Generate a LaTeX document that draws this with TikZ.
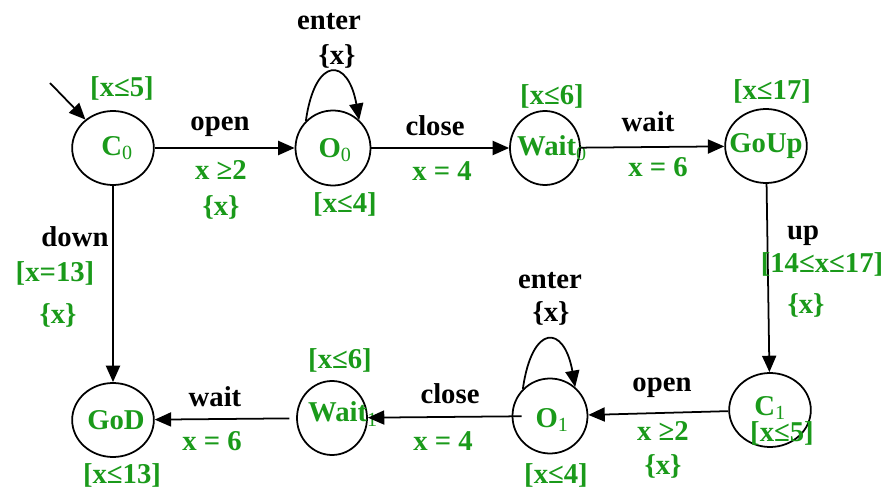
\documentclass[tikz,border=0pt]{standalone}
\usepackage{fontspec}
\setmainfont{Liberation Serif}
\usetikzlibrary{arrows.meta, shapes.geometric}

\definecolor{guardGreen}{HTML}{1A9A1A}

\newcommand{\locsub}[1]{\textsubscript{\mdseries #1}}

\tikzset{
  state/.style={draw, ellipse, line width=1.5pt, inner sep=0pt},
  widestate/.style={state, minimum width=2.45cm, minimum height=2.22cm},
  roundstate/.style={state, minimum width=2.25cm, minimum height=2.25cm},
  narrowstate/.style={state, minimum width=2.1cm, minimum height=2.22cm},
  sname/.style={text=guardGreen, inner sep=0pt},
  act/.style={text=black, inner sep=0pt},
  grd/.style={text=guardGreen, inner sep=0pt},
  trans/.style={line width=1.5pt, -{Triangle[length=14pt, width=12pt]}},
}

\begin{document}
\begin{tikzpicture}[x=0.3cm, y=0.3cm, every node/.append style={font=\fontsize{24.5}{29}\selectfont\bfseries}]
    \useasboundingbox (0,0) rectangle (88.8,49.2);

    % Locations, top row
    \node[widestate, label={[sname, xshift=0.12cm]center:C\locsub{0}}] (C0) at (11.3,34.4) {};
    \node[roundstate, label={[sname, xshift=0.06cm, yshift=-0.06cm]center:O\locsub{0}}] (O0) at (33.3,34.4) {};
    \node[narrowstate, label={[sname, xshift=0.21cm]center:Wait\locsub{0}}] (Wait0) at (54.5,34.4) {};
    \node[widestate, label={[sname]center:GoUp}] (GoUp) at (76.6,34.6) {};

    % Locations, bottom row
    \node[widestate, label={[sname, yshift=0.06cm]center:C\locsub{1}}] (C1) at (77.0,8.2) {};
    \node[roundstate, label={[sname, xshift=0.06cm, yshift=-0.12cm]center:O\locsub{1}}] (O1) at (55.0,7.6) {};
    \node[narrowstate, label={[sname, xshift=0.33cm, yshift=0.12cm]center:Wait\locsub{1}}] (Wait1) at (33.2,7.4) {};
    \node[widestate, label={[sname, xshift=0.09cm]center:GoD}] (GoD) at (11.3,7.2) {};

    % Initial location
    \coordinate (init) at (5.0,40.9);
    \draw[trans] (init) -- (C0);

    % Transitions
    \draw[trans] (C0) -- (O0);
    \draw[trans] (O0) -- (Wait0);
    \draw[trans] (Wait0) -- (GoUp);
    \draw[trans] (GoUp) -- (C1);
    \draw[trans] (C1) -- (O1);
    \draw[trans, shorten <=-0.3cm] (O1) -- (Wait1);
    \draw[trans, shorten <=0.2cm] (Wait1) -- (GoD);
    \draw[trans] (C0) -- (GoD);
    \draw[trans] (O0.135) .. controls +(82:6.6) and +(100:6.4) .. (O0.47);
    \draw[trans] (O1.135) .. controls +(82:6.6) and +(100:6.4) .. (O1.49);

    % Invariants
    \node[grd] (invC0) at (12.2,40.4) {[x≤5]};
    \node[grd] (invO0) at (34.5,28.8) {[x≤4]};
    \node[grd] (invWait0) at (55.2,39.6) {[x≤6]};
    \node[grd] (invGoUp) at (77.2,40.1) {[x≤17]};
    \node[grd] (invC1) at (78.2,5.9) {[x≤5]};
    \node[grd] (invO1) at (55.6,1.7) {[x≤4]};
    \node[grd] (invWait1) at (34.0,13.2) {[x≤6]};
    \node[grd] (invGoD) at (12.2,1.7) {[x≤13]};

    % Labels, top row
    \node[act] (lblEnter0) at (32.9,47.0) {enter};
    \node[act] (rstEnter0) at (33.7,43.6) {\{x\}};
    \node[act] (lblOpen0) at (22.0,36.5) {open};
    \node[grd] (grdOpen0) at (22.1,32.2) {x ≥2};
    \node[grd] (rstOpen0) at (22.1,28.5) {\{x\}};
    \node[act] (lblClose0) at (43.5,36.6) {close};
    \node[grd] (grdClose0) at (44.2,32.1) {x = 4};
    \node[act] (lblWait0) at (64.8,37.0) {wait};
    \node[grd] (grdWait0) at (65.8,32.5) {x = 6};

    % Labels, vertical edges
    \node[act] (lblUp) at (80.3,25.6) {up};
    \node[grd] (grdUp) at (82.2,22.8) {[14≤x≤17]};
    \node[grd] (rstUp) at (80.6,18.7) {\{x\}};
    \node[act] (lblDown) at (7.5,25.5) {down};
    \node[grd] (grdDown) at (5.5,21.9) {[x=13]};
    \node[grd] (rstDown) at (5.8,17.7) {\{x\}};

    % Labels, bottom row
    \node[act] (lblEnter1) at (55.0,21.1) {enter};
    \node[act] (rstEnter1) at (55.1,17.9) {\{x\}};
    \node[act] (lblOpen1) at (66.2,10.4) {open};
    \node[grd] (grdOpen1) at (66.3,6.1) {x ≥2};
    \node[grd] (rstOpen1) at (66.3,2.6) {\{x\}};
    \node[act] (lblClose1) at (45.0,9.8) {close};
    \node[grd] (grdClose1) at (44.3,5.1) {x = 4};
    \node[act] (lblWait1) at (21.5,9.5) {wait};
    \node[grd] (grdWait1) at (21.2,5.1) {x = 6};
\end{tikzpicture}
\end{document}
